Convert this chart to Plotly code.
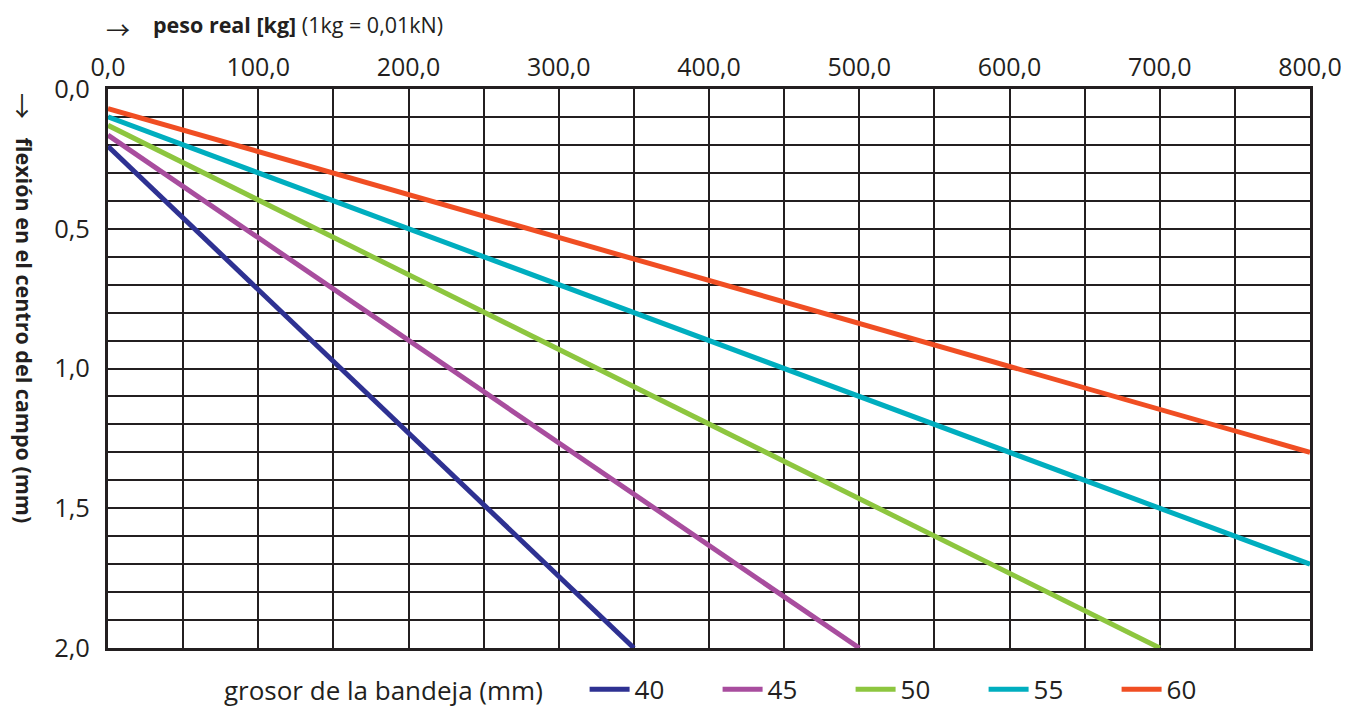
import plotly.graph_objects as go

# Data
series_names = ["40", "45", "50", "55", "60"]
series_colors = ["#2e3192", "#a84d9e", "#8dc63f", "#00aebf", "#f04e23"]
x_40 = [0, 350]
y_40 = [0.205, 2.0]
x_45 = [0, 500]
y_45 = [0.165, 2.0]
x_50 = [0, 700]
y_50 = [0.13, 2.0]
x_55 = [0, 800]
y_55 = [0.10, 1.70]
x_60 = [0, 800]
y_60 = [0.07, 1.30]

xs = [x_40, x_45, x_50, x_55, x_60]
ys = [y_40, y_45, y_50, y_55, y_60]

INK = "#231f20"
FONT = "Open Sans"
ARROW_FONT = "Noto Sans CJK JP"

fig = go.Figure()
for name, color, x, y in zip(series_names, series_colors, xs, ys):
    fig.add_trace(go.Scatter(x=x, y=y, mode="lines", name=name,
                             line=dict(color=color, width=5)))

# page body has an 8px default margin, so the figure is sized to fit the window
fig.update_layout(
    width=1341, height=700,
    margin=dict(l=100, r=39, t=81, b=60, autoexpand=False),
    paper_bgcolor="white", plot_bgcolor="white",
    separators=", ",
    font=dict(family=FONT, color=INK, size=25),
    showlegend=True,
    legend=dict(orientation="h", x=0.0948, xanchor="left", y=-0.074, yanchor="middle",
                bgcolor="rgba(0,0,0,0)",
                title=dict(text="grosor de la bandeja (mm)" + "\u00a0" * 5, side="left",
                           font=dict(size=26, family=FONT, color=INK)),
                font=dict(size=26, family=FONT, color=INK),
                entrywidth=78, itemwidth=40, traceorder="normal"),
    xaxis=dict(side="top", range=[0, 800], dtick=100, tick0=0, tickformat=".1f",
               showgrid=True, gridcolor=INK, gridwidth=1.6,
               minor=dict(dtick=50, tick0=0, showgrid=True, gridcolor=INK, gridwidth=1.6),
               showline=True, linecolor=INK, linewidth=3, mirror=True,
               ticks="", zeroline=False, automargin=False,
               tickfont=dict(size=25, family=FONT, color=INK)),
    yaxis=dict(range=[2.0, 0], dtick=0.5, tick0=0, tickformat=".1f",
               showgrid=True, gridcolor=INK, gridwidth=1.6,
               minor=dict(dtick=0.1, tick0=0, showgrid=True, gridcolor=INK, gridwidth=1.6),
               showline=True, linecolor=INK, linewidth=3, mirror=True,
               ticks="", zeroline=False, ticklabelstandoff=10, automargin=False,
               tickfont=dict(size=25.5, family=FONT, color=INK)),
)

# Top axis title with arrow
fig.add_annotation(xref="paper", yref="paper", x=-0.0025, y=1.108, xanchor="left", yanchor="middle",
                   text="→", showarrow=False, borderpad=0,
                   font=dict(size=24, family=ARROW_FONT, color=INK))
fig.add_annotation(xref="paper", yref="paper", x=0.036, y=1.116, xanchor="left", yanchor="middle",
                   text="<b>peso real [kg]</b> (1kg = 0,01kN)", showarrow=False,
                   font=dict(size=21.5, family=FONT, color=INK))
# Left axis title with arrow
fig.add_annotation(xref="paper", yref="paper", x=-0.0715, y=0.972, xanchor="center", yanchor="middle",
                   text="↓", showarrow=False, borderpad=0,
                   font=dict(size=26, family=ARROW_FONT, color=INK))
fig.add_annotation(xref="paper", yref="paper", x=-0.0695, y=0.567, xanchor="center", yanchor="middle",
                   text="<b>flexión en el centro del campo (mm)</b>", textangle=90, showarrow=False,
                   borderpad=0,
                   font=dict(size=21.5, family=FONT, color=INK))

fig.write_html("out.html")
